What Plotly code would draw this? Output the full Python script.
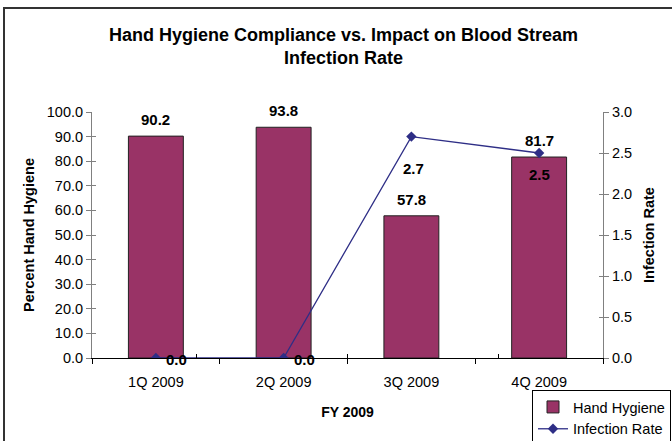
import plotly.graph_objects as go

categories = ["1Q 2009", "2Q 2009", "3Q 2009", "4Q 2009"]
hand_hygiene = [90.2, 93.8, 57.8, 81.7]
infection_rate = [0.0, 0.0, 2.7, 2.5]
left_ticks = [0, 10, 20, 30, 40, 50, 60, 70, 80, 90, 100]
right_ticks = [0, 0.5, 1.0, 1.5, 2.0, 2.5, 3.0]

# label placement styling (pixel offsets) for infection-rate labels
rate_label_style = [
    dict(xshift=21, yshift=-1),
    dict(xshift=21, yshift=-1),
    dict(xshift=2, yshift=-32),
    dict(xshift=0, yshift=-21),
]

FONT = "Liberation Sans, Arial, sans-serif"
BAR_COLOR = "#993366"
LINE_COLOR = "#2E2E86"
TICK_SIZE = 14.5

fig = go.Figure()
fig.add_trace(go.Bar(
    x=categories, y=hand_hygiene, name="Hand Hygiene",
    marker=dict(color=BAR_COLOR, line=dict(color="#222222", width=1)),
    width=0.43, yaxis="y",
))
fig.add_trace(go.Scatter(
    x=categories, y=infection_rate, name="Infection Rate",
    mode="lines+markers", yaxis="y2",
    line=dict(color=LINE_COLOR, width=1.3),
    marker=dict(symbol="diamond", size=8, color=LINE_COLOR),
))
# invisible helpers so that inward tick halves (crossing ticks) are drawn
fig.add_trace(go.Scatter(x=categories, y=hand_hygiene, xaxis="x2", yaxis="y3",
                         mode="markers", marker=dict(opacity=0), showlegend=False,
                         hoverinfo="skip"))
fig.add_trace(go.Scatter(x=categories, y=infection_rate, xaxis="x2", yaxis="y4",
                         mode="markers", marker=dict(opacity=0), showlegend=False,
                         hoverinfo="skip"))

annotations = []
for c, v in zip(categories, hand_hygiene):
    annotations.append(dict(x=c, y=v, xref="x", yref="y", text=f"<b>{v:.1f}</b>",
                            showarrow=False, yanchor="bottom", yshift=6,
                            font=dict(family=FONT, size=15, color="black")))
for c, v, st in zip(categories, infection_rate, rate_label_style):
    annotations.append(dict(x=c, y=v, xref="x", yref="y2", text=f"<b>{v:.1f}</b>",
                            showarrow=False, xshift=st["xshift"], yshift=st["yshift"],
                            font=dict(family=FONT, size=15, color="black")))

annotations.append(dict(x=(343 - 92) / 511, y=(358 - 46.5) / 246, xref="paper", yref="paper",
                        text="<b>Hand Hygiene Compliance vs. Impact on Blood Stream<br>Infection Rate</b>",
                        showarrow=False, xanchor="center", yanchor="middle",
                        font=dict(family=FONT, size=18, color="black")))

axis_common = dict(showgrid=False, zeroline=False, automargin=False)

fig.update_layout(
    width=672, height=441,
    margin=dict(l=92, r=69, t=112, b=83, autoexpand=False),
    paper_bgcolor="white", plot_bgcolor="white",
    font=dict(family=FONT, size=12, color="black"),
    showlegend=True,
    legend=dict(x=(532 - 92) / 511, y=(358 - 390) / 246, xanchor="left", yanchor="top",
                bordercolor="black", borderwidth=1, bgcolor="white",
                font=dict(family=FONT, size=14.5), tracegroupgap=0, itemwidth=30),
    xaxis=dict(type="category", showline=True, linecolor="black", linewidth=1,
               ticks="outside", tickson="boundaries", ticklen=5, tickcolor="black",
               tickfont=dict(size=TICK_SIZE), ticklabelstandoff=11,
               title=dict(text="<b>FY 2009</b>", font=dict(size=14), standoff=17),
               **axis_common),
    xaxis2=dict(type="category", overlaying="x", showline=False,
                ticks="inside", tickson="boundaries", ticklen=4, tickcolor="black",
                showticklabels=False, **axis_common),
    yaxis=dict(range=[0, 100], tickvals=left_ticks, tickformat=".1f",
               showline=True, linecolor="#808080", linewidth=1,
               ticks="outside", ticklen=5, tickcolor="#808080",
               tickfont=dict(size=TICK_SIZE),
               title=dict(text="<b>Percent Hand Hygiene</b>", font=dict(size=14.5), standoff=8),
               **axis_common),
    yaxis2=dict(range=[0, 3], tickvals=right_ticks, tickformat=".1f",
                overlaying="y", side="right",
                showline=True, linecolor="#808080", linewidth=1,
                ticks="outside", ticklen=5, tickcolor="#808080",
                tickfont=dict(size=TICK_SIZE),
                title=dict(text="<b>Infection Rate</b>", font=dict(size=14.5), standoff=12),
                **axis_common),
    yaxis3=dict(range=[0, 100], tickvals=left_ticks, overlaying="y", side="left",
                showline=False, ticks="inside", ticklen=4, tickcolor="#808080",
                showticklabels=False, **axis_common),
    yaxis4=dict(range=[0, 3], tickvals=right_ticks, overlaying="y", side="right",
                showline=False, ticks="inside", ticklen=4, tickcolor="#808080",
                showticklabels=False, **axis_common),
    annotations=annotations,
    shapes=[dict(type="rect", xref="paper", yref="paper",
                 x0=(4 - 92) / 511, x1=(690 - 92) / 511,
                 y0=(358 - 460) / 246, y1=(358 - 8) / 246,
                 line=dict(color="#333333", width=2), layer="below")],
)

fig.write_html("out.html", config={"displayModeBar": False},
               post_script="document.body.style.margin='0';document.body.style.overflow='hidden';")
